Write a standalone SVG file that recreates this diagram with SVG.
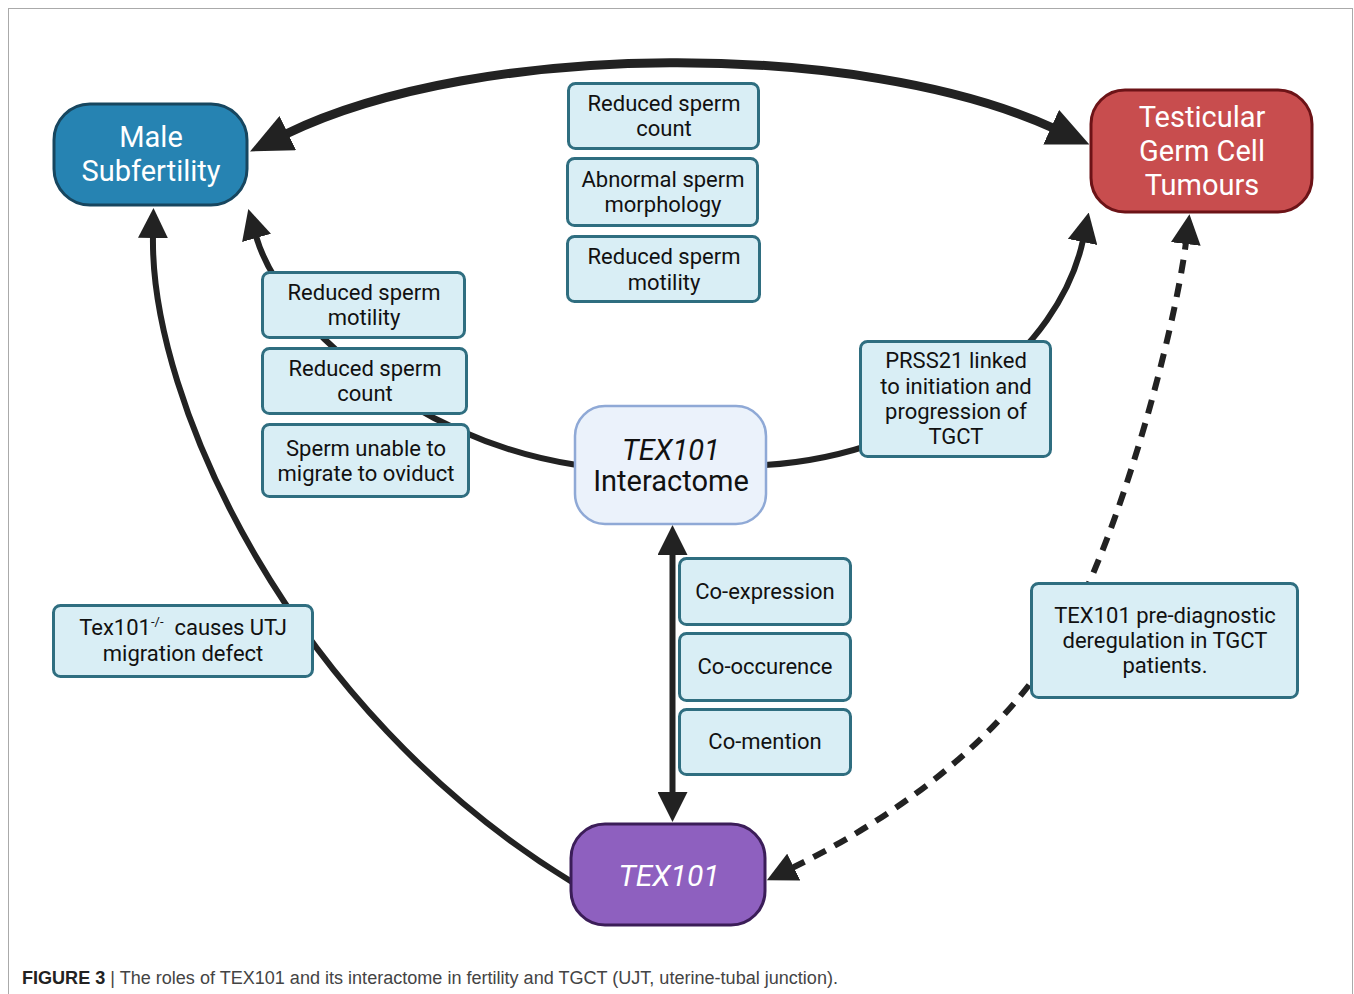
<svg xmlns="http://www.w3.org/2000/svg" width="1354" height="994" viewBox="0 0 1354 994">
<style>
.box{fill:#d9eef5;stroke:#2f6e80;stroke-width:3}
.bt{font-family:Roboto,"Liberation Sans",sans-serif;font-size:22px;fill:#111;text-anchor:middle}
.nt{font-family:Roboto,"Liberation Sans",sans-serif;font-size:29px;fill:#fff;text-anchor:middle}
.line{fill:none;stroke:#222;stroke-width:6}
.thick{stroke-width:9}
.dash{stroke-dasharray:14 10}
</style>
<defs>
<marker id="ah" markerUnits="userSpaceOnUse" markerWidth="30" markerHeight="30" viewBox="0 0 30 30" refX="2" refY="15" orient="auto-start-reverse">
<path d="M0,0 L30,15 L0,30 z" fill="#222"/>
</marker>
<marker id="ahL" markerUnits="userSpaceOnUse" markerWidth="42" markerHeight="38" viewBox="0 0 42 38" refX="2" refY="19" orient="auto-start-reverse">
<path d="M0,0 L42,19 L0,38 z" fill="#222"/>
</marker>
</defs>
<rect x="8.5" y="8.5" width="1344" height="1000" fill="#fff" stroke="#aaa" stroke-width="1"/>

<g id="connectors">
<path class="line thick" d="M286,134 C480,40 860,40 1053,128" marker-start="url(#ahL)" marker-end="url(#ahL)"/>
<path class="line" d="M572,882 C290,710 150,400 153,236" marker-end="url(#ah)"/>
<path class="line" d="M577,465 C410,440 280,320 256,236" marker-end="url(#ah)"/>
<path class="line" d="M765,465 C930,455 1060,350 1083,240" marker-end="url(#ah)"/>
<path class="line" d="M672.5,553 L672.5,794" stroke-width="7" marker-start="url(#ah)" marker-end="url(#ah)"/>
<path class="line dash" d="M792,868 C900,815 1000,740 1060,640 S1175,330 1186,242" marker-start="url(#ah)" marker-end="url(#ah)"/>
</g>

<g id="male-subfertility">
<rect x="54" y="104" width="193" height="101" rx="36" fill="#2683b2" stroke="#17465f" stroke-width="3"/>
<text class="nt" x="151" y="147">Male</text>
<text class="nt" x="151" y="181">Subfertility</text>
</g>

<g id="tgct">
<rect x="1091" y="90" width="221" height="122" rx="34" fill="#c84d4e" stroke="#6c1317" stroke-width="3"/>
<text class="nt" x="1202" y="127">Testicular</text>
<text class="nt" x="1202" y="161">Germ Cell</text>
<text class="nt" x="1202" y="195">Tumours</text>
</g>

<g id="interactome">
<rect x="575" y="406" width="191" height="118" rx="30" fill="#ebf2fb" stroke="#8fa9d6" stroke-width="2.5"/>
<text class="nt" x="671" y="460" style="fill:#111;font-style:italic;font-size:29px">TEX101</text>
<text class="nt" x="671" y="491" style="fill:#111;font-size:29px">Interactome</text>
</g>

<g id="tex101">
<rect x="571" y="824" width="194" height="101" rx="34" fill="#8e60bf" stroke="#3b1d58" stroke-width="3"/>
<text class="nt" x="669" y="886" style="font-style:italic;font-size:30px">TEX101</text>
</g>

<g id="top-count">
<rect class="box" x="568.5" y="83.5" width="190" height="65" rx="7"/>
<text class="bt" x="664" y="111">Reduced sperm</text>
<text class="bt" x="664" y="136">count</text>
</g>
<g id="top-morphology">
<rect class="box" x="567.5" y="158.5" width="190" height="67" rx="7"/>
<text class="bt" x="663" y="187">Abnormal sperm</text>
<text class="bt" x="663" y="212">morphology</text>
</g>
<g id="top-motility">
<rect class="box" x="567.5" y="236.5" width="192" height="65" rx="7"/>
<text class="bt" x="664" y="264">Reduced sperm</text>
<text class="bt" x="664" y="290">motility</text>
</g>

<g id="left-motility">
<rect class="box" x="262.5" y="272.5" width="202" height="65" rx="7"/>
<text class="bt" x="364" y="300">Reduced sperm</text>
<text class="bt" x="364" y="325">motility</text>
</g>
<g id="left-count">
<rect class="box" x="262.5" y="348.5" width="204" height="65" rx="7"/>
<text class="bt" x="365" y="376">Reduced sperm</text>
<text class="bt" x="365" y="401">count</text>
</g>
<g id="left-migrate">
<rect class="box" x="262.5" y="424.5" width="206" height="72" rx="7"/>
<text class="bt" x="366" y="456">Sperm unable to</text>
<text class="bt" x="366" y="481">migrate to oviduct</text>
</g>

<g id="prss21">
<rect class="box" x="860.5" y="341.5" width="190" height="115" rx="7"/>
<text class="bt" x="956" y="368">PRSS21 linked</text>
<text class="bt" x="956" y="394">to initiation and</text>
<text class="bt" x="956" y="419">progression of</text>
<text class="bt" x="956" y="444">TGCT</text>
</g>

<g id="utj">
<rect class="box" x="53.5" y="605.5" width="259" height="71" rx="7"/>
<text class="bt" x="183" y="635"><tspan>Tex101</tspan><tspan dy="-9" font-size="13">-/-</tspan><tspan dy="9">&#160; causes UTJ</tspan></text>
<text class="bt" x="183" y="661">migration defect</text>
</g>

<g id="co-expression">
<rect class="box" x="679.5" y="558.5" width="171" height="66" rx="7"/>
<text class="bt" x="765" y="599">Co-expression</text>
</g>
<g id="co-occurence">
<rect class="box" x="679.5" y="633.5" width="171" height="67" rx="7"/>
<text class="bt" x="765" y="674">Co-occurence</text>
</g>
<g id="co-mention">
<rect class="box" x="679.5" y="709.5" width="171" height="65" rx="7"/>
<text class="bt" x="765" y="749">Co-mention</text>
</g>

<g id="prediagnostic">
<rect class="box" x="1031.5" y="583.5" width="266" height="114" rx="7"/>
<text class="bt" x="1165" y="623">TEX101 pre-diagnostic</text>
<text class="bt" x="1165" y="648">deregulation in TGCT</text>
<text class="bt" x="1165" y="673">patients.</text>
</g>

<text x="22" y="984" font-family="'Liberation Sans',Arial,sans-serif" font-size="18" fill="#444" textLength="816" lengthAdjust="spacingAndGlyphs"><tspan font-weight="bold" fill="#222">FIGURE 3</tspan> | The roles of TEX101 and its interactome in fertility and TGCT (UJT, uterine-tubal junction).</text>
</svg>
